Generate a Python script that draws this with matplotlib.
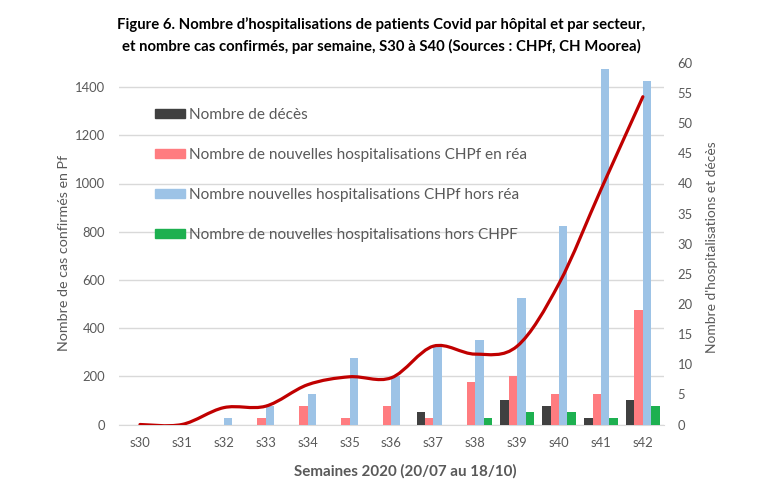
import numpy as np
import matplotlib
matplotlib.use("Agg")
import matplotlib.pyplot as plt
import matplotlib.patches as mpatches
from matplotlib.path import Path

plt.rcParams["font.family"] = ["Lato", "DejaVu Sans"]

WEEKS = ["s30", "s31", "s32", "s33", "s34", "s35", "s36",
         "s37", "s38", "s39", "s40", "s41", "s42"]
CASES = [0, 0, 70, 76, 165, 198, 194, 325, 292, 325, 585, 975, 1360]
DECES = [0, 0, 0, 0, 0, 0, 0, 2, 0, 4, 3, 1, 4]
REA = [0, 0, 0, 1, 3, 1, 3, 1, 7, 8, 5, 5, 19]
HORS_REA = [0, 0, 1, 3, 5, 11, 8, 13, 14, 21, 33, 59, 57]
HORS_CHPF = [0, 0, 0, 0, 0, 0, 0, 0, 1, 2, 2, 1, 3]

SERIES = [
    ("Nombre de décès", DECES, "#404040"),
    ("Nombre de nouvelles hospitalisations CHPf en réa", REA, "#FF7C80"),
    ("Nombre nouvelles hospitalisations CHPf hors réa", HORS_REA, "#9DC3E6"),
    ("Nombre de nouvelles hospitalisations hors CHPF", HORS_CHPF, "#1DB050"),
]

TEXT_COLOR = "#595959"
GRID_COLOR = "#D9D9D9"
LINE_COLOR = "#C00000"


def smooth_path(x, y):
    # Excel-like smoothed line: cubic Bezier segments (Catmull-Rom tangents)
    pts = np.column_stack([x, y]).astype(float)
    n = len(pts)
    verts = [pts[0]]
    codes = [Path.MOVETO]
    for i in range(n - 1):
        p0 = pts[i - 1] if i > 0 else pts[i]
        p1 = pts[i]
        p2 = pts[i + 1]
        p3 = pts[i + 2] if i + 2 < n else pts[i + 1]
        verts += [p1 + (p2 - p0) / 6, p2 - (p3 - p1) / 6, p2]
        codes += [Path.CURVE4] * 3
    return Path(verts, codes)


fig = plt.figure(figsize=(7.63, 5.0), dpi=100)
ax = fig.add_axes([0.156, 0.151, 0.714, 0.723])
ax_bar = ax.twinx()
ax_line = ax.twinx()

x = np.arange(len(WEEKS))

# left axis: cases (gridlines)
ax.set_ylim(0, 1500)
ax.set_yticks(range(0, 1401, 200))
ax.set_xlim(-0.5, len(WEEKS) - 0.5)
ax.yaxis.grid(True, color=GRID_COLOR, linewidth=1)
ax.set_axisbelow(True)
ax.set_xticks(x)
ax.set_xticklabels(WEEKS)
ax.tick_params(axis="both", length=0, colors=TEXT_COLOR, labelsize=9.4)
ax.tick_params(axis="y", pad=10)
ax.tick_params(axis="x", pad=9)
for s in ["top", "left", "right"]:
    ax.spines[s].set_visible(False)
ax.spines["bottom"].set_color(GRID_COLOR)
ax.set_ylabel("Nombre de cas confirmés en Pf", color=TEXT_COLOR, fontsize=10.3)
ax.yaxis.set_label_coords(-0.09, 0.474)

# right axis: bars
w = 0.2
for k, (label, vals, color) in enumerate(SERIES):
    ax_bar.bar(x + (k - 1.5) * w, vals, width=w, color=color, label=label)
ax_bar.set_ylim(0, 60)
ax_bar.set_yticks(range(0, 61, 5))
ax_bar.tick_params(axis="y", length=0, colors=TEXT_COLOR, labelsize=9.4, pad=10)
for s in ax_bar.spines.values():
    s.set_visible(False)
ax_bar.set_ylabel("Nombre d'hospitalisations et décès", color=TEXT_COLOR,
                  fontsize=9.9)
ax_bar.yaxis.set_label_coords(1.077, 0.491)

# line axis: smoothed cases curve on top of the bars
ax_line.set_ylim(ax.get_ylim())
ax_line.set_xlim(ax.get_xlim())
ax_line.axis("off")
ax_line.add_patch(mpatches.PathPatch(smooth_path(x, CASES), facecolor="none",
                                     edgecolor=LINE_COLOR, linewidth=2.3,
                                     capstyle="round", joinstyle="round"))

handles = [mpatches.Patch(color=c, label=l) for l, _, c in SERIES]
leg = ax_bar.legend(handles=handles, loc="upper left",
                    bbox_to_anchor=(0.041, 0.915), frameon=False,
                    fontsize=11.1, handlelength=1.95, handleheight=0.55,
                    handletextpad=0.25, labelspacing=1.7)
for t in leg.get_texts():
    t.set_color(TEXT_COLOR)

fig.text(0.5, 1 - 25 / 500,
         "Figure 6. Nombre d\u2019hospitalisations de patients Covid par hôpital et par secteur,",
         ha="center", va="center", fontsize=10.7, fontweight="bold", color="black")
fig.text(0.5, 1 - 46 / 500,
         "et nombre cas confirmés, par semaine, S30 à S40 (Sources : CHPf, CH Moorea)",
         ha="center", va="center", fontsize=10.7, fontweight="bold", color="black")
fig.text(0.531, 1 - 471 / 500, "Semaines 2020 (20/07 au 18/10)", ha="center",
         va="center", fontsize=10.9, fontweight="bold", color=TEXT_COLOR)

fig.savefig("out.png", dpi=100)
